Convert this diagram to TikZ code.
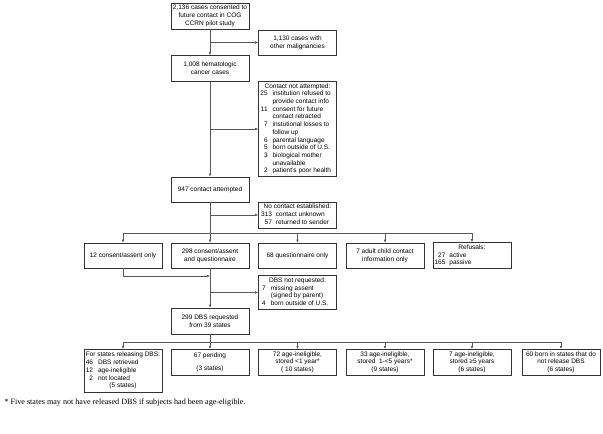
\documentclass[tikz,border=0pt]{standalone}
\usepackage{fontspec}
\setmainfont{Liberation Serif}
\setsansfont{Liberation Sans}
\usetikzlibrary{arrows.meta}
\tikzset{
  box/.style={draw=black!80,line width=0.6pt,minimum width=78pt,inner sep=1.5pt,align=center,
    font=\sffamily\fontsize{6.5}{7.7}\selectfont},
  link/.style={draw=black!65,line width=0.55pt},
  arr/.style={link,-{Latex[length=3pt,width=2.6pt]}}
}
\begin{document}
\begin{tikzpicture}[x=1pt,y=-1pt]
\useasboundingbox (0,0) rectangle (603,434);
\pgfmathsetmacro{\ca}{123}
\pgfmathsetmacro{\cb}{210}
\pgfmathsetmacro{\cc}{297.5}
\pgfmathsetmacro{\cd}{385}
\pgfmathsetmacro{\ce}{472}
\pgfmathsetmacro{\cf}{561}
% upper chain
\node[box,minimum height=26pt](consent)at(\cb,16){2,136 cases consented to\\future contact in COG\\CCRN pilot study};
\node[box,minimum height=25pt](other)at(\cc,42.5){1,130 cases with\\other malignancies};
\node[box,minimum height=26pt](hemat)at(\cb,68.5){1,008 hematologic\\cancer cases};
\node[box,minimum height=94pt](notatt)at(\cc,129){\begin{tabular}{@{}r@{\hspace{5pt}}p{62pt}@{}}
\multicolumn{2}{@{}c@{}}{Contact not attempted:}\\
25&institution refused to\\&provide contact info\\
11&consent for future\\&contact retracted\\
7&instutional losses to\\&follow up\\
6&parental language\\
5&born outside of U.S.\\
3&biological mother\\&unavailable\\
2&patient's poor health\end{tabular}};
\node[box,minimum height=25pt](attempt)at(\cb,189.5){947 contact attempted};
\node[box,minimum height=26pt](nocont)at(\cc,215){\begin{tabular}{@{}r@{\hspace{4pt}}p{58pt}@{}}
\multicolumn{2}{@{}c@{}}{No contact established:}\\
313&contact unknown\\57&returned to sender\end{tabular}};
% responses
\node[box,minimum height=25pt](only12)at(\ca,255.5){12 consent/assent only};
\node[box,minimum height=25pt](both298)at(\cb,255.5){298 consent/assent\\and questionnaire};
\node[box,minimum height=25pt](quest68)at(\cc,255.5){68 questionnaire only};
\node[box,minimum height=25pt](adult7)at(\cd,255.5){7 adult child contact\\information only};
\node[box,minimum height=25pt](refus)at(\ce,255.5){\begin{tabular}{@{}r@{\hspace{4pt}}p{60pt}@{}}
\multicolumn{2}{@{}c@{}}{Refusals:}\\27&active\\165&passive\end{tabular}};
\node[box,minimum height=33pt](notreq)at(\cc,292.5){\begin{tabular}{@{}r@{\hspace{5pt}}p{62pt}@{}}
\multicolumn{2}{@{}c@{}}{DBS not requested:}\\
7&missing assent\\&(signed by parent)\\4&born outside of U.S.\end{tabular}};
\node[box,minimum height=26pt](req299)at(\cb,321){299 DBS requested\\from 39 states};
% outcomes
\node[box,minimum height=43pt,anchor=north](released)at(\ca,349){\begin{tabular}{@{}r@{\hspace{5pt}}p{62pt}@{}}
\multicolumn{2}{@{}l@{}}{For states releasing DBS:}\\
46&DBS retrieved\\12&age-ineligible\\2&not located\\
\multicolumn{2}{@{}c@{}}{(5 states)}\end{tabular}};
\node[box,minimum height=26pt,anchor=north](pend67)at(\cb,349){67 pending\\[5pt](3 states)};
\node[box,minimum height=26pt,anchor=north](stored72)at(\cc,349){72 age-ineligible,\\stored <1 year*\\( 10 states)};
\node[box,minimum height=26pt,anchor=north](stored33)at(\cd,349){33 age-ineligible,\\stored\ \ 1-<5 years*\\(9 states)};
\node[box,minimum height=26pt,anchor=north](stored7)at(\ce,349){7 age-ineligible,\\stored ≥5 years\\(6 states)};
\node[box,minimum height=26pt,anchor=north](born60)at(\cf,349){60 born in states that do\\not release DBS\\(6 states)};
\node[anchor=base west,font=\rmfamily\fontsize{8.1}{9.5}\selectfont](note)at(1,404){* Five states may not have released DBS if subjects had been age-eligible.};
% connectors
\draw[arr](consent)--(hemat);
\draw[arr](consent.south|-other.west)--(other.west);
\draw[arr](hemat)--(attempt);
\draw[arr](hemat.south|-notatt.west)--(notatt.west);
\coordinate(split1)at(\cb,233);
\draw[link](attempt.south)--(split1);
\draw[arr](attempt.south|-nocont.west)--(nocont.west);
\draw[link](split1-|only12)--(split1-|refus);
\foreach \n in {only12,both298,quest68,adult7,refus}{\draw[arr](split1-|\n)--(\n.north);}
\coordinate(join)at(\cb,276);
\draw[arr](only12.south)|-(join);
\draw[arr](both298)--(req299);
\draw[arr](both298.south|-notreq.west)--(notreq.west);
\coordinate(split2)at(\cb,342);
\draw[link](req299.south)--(split2);
\draw[link](split2-|released)--(split2-|born60);
\foreach \n in {released,pend67,stored72,stored33,stored7,born60}{\draw[arr](split2-|\n)--(\n.north);}
\end{tikzpicture}
\end{document}
